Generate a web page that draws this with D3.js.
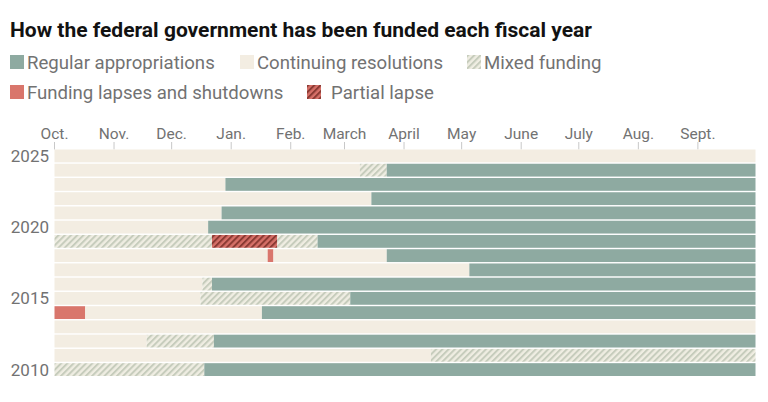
<!DOCTYPE html>
<html>
<head>
<meta charset="utf-8">
<script src="https://cdn.jsdelivr.net/npm/d3@7"></script>
<style>
  body { margin: 0; background: #fff; }
  svg { display: block; font-family: Roboto, "Liberation Sans", sans-serif; }
  .title { font-weight: 700; font-size: 21px; fill: #121212; }
  .legend-label { font-size: 18.6px; fill: #727272; }
  .month-label { font-size: 15.5px; fill: #727272; }
  .year-label { font-size: 17px; fill: #727272; }
</style>
</head>
<body>
<svg id="chart" width="768" height="402"></svg>
<script>
// fiscal years, top to bottom
const years = [2025, 2024, 2023, 2022, 2021, 2020, 2019, 2018, 2017, 2016, 2015, 2014, 2013, 2012, 2011, 2010];
const yearLabels = [2025, 2020, 2015, 2010];
const monthLabels = ['Oct.', 'Nov.', 'Dec.', 'Jan.', 'Feb.', 'March', 'April', 'May', 'June', 'July', 'Aug.', 'Sept.'];

// [fiscal year, funding type, start (MM-DD), end (MM-DD or 'end')]
const segments = [
    [2025, 'cr', '10-01', 'end'],
    [2024, 'cr', '10-01', '03-09'],
    [2024, 'mixed', '03-09', '03-23'],
    [2024, 'regular', '03-23', 'end'],
    [2023, 'cr', '10-01', '12-29'],
    [2023, 'regular', '12-29', 'end'],
    [2022, 'cr', '10-01', '03-15'],
    [2022, 'regular', '03-15', 'end'],
    [2021, 'cr', '10-01', '12-27'],
    [2021, 'regular', '12-27', 'end'],
    [2020, 'cr', '10-01', '12-20'],
    [2020, 'regular', '12-20', 'end'],
    [2019, 'mixed', '10-01', '12-22'],
    [2019, 'partial', '12-22', '01-25'],
    [2019, 'mixed', '01-25', '02-15'],
    [2019, 'regular', '02-15', 'end'],
    [2018, 'cr', '10-01', '01-20'],
    [2018, 'lapse', '01-20', '01-23'],
    [2018, 'cr', '01-23', '03-23'],
    [2018, 'regular', '03-23', 'end'],
    [2017, 'cr', '10-01', '05-05'],
    [2017, 'regular', '05-05', 'end'],
    [2016, 'cr', '10-01', '12-17'],
    [2016, 'mixed', '12-17', '12-22'],
    [2016, 'regular', '12-22', 'end'],
    [2015, 'cr', '10-01', '12-16'],
    [2015, 'mixed', '12-16', '03-04'],
    [2015, 'regular', '03-04', 'end'],
    [2014, 'lapse', '10-01', '10-17'],
    [2014, 'cr', '10-17', '01-17'],
    [2014, 'regular', '01-17', 'end'],
    [2013, 'cr', '10-01', 'end'],
    [2012, 'cr', '10-01', '11-18'],
    [2012, 'mixed', '11-18', '12-23'],
    [2012, 'regular', '12-23', 'end'],
    [2011, 'cr', '10-01', '04-15'],
    [2011, 'mixed', '04-15', 'end'],
    [2010, 'mixed', '10-01', '12-18'],
    [2010, 'regular', '12-18', 'end']
];

const legendRows = [
    [['regular', 'Regular appropriations'], ['cr', 'Continuing resolutions'], ['mixed', 'Mixed funding']],
    [['lapse', 'Funding lapses and shutdowns'], ['partial', 'Partial lapse']]
];

const COLORS = {
    regular: '#8eaaa1',
    cr: '#f3ede2',
    lapse: '#d9766c',
    mixedBg: '#efede2',
    mixedLine: '#c6ccbc',
    partialBg: '#d67068',
    partialLine: '#8a3a33'
};

const svg = d3.select('#chart');

// hatch patterns
const defs = svg.append('defs');
function hatch(id, bg, line) {
    const p = defs.append('pattern')
        .attr('id', id)
        .attr('patternUnits', 'userSpaceOnUse')
        .attr('width', 4.4)
        .attr('height', 4.4)
        .attr('patternTransform', 'rotate(45)');
    p.append('rect').attr('width', 4.4).attr('height', 4.4).attr('fill', bg);
    p.append('rect').attr('width', 2).attr('height', 4.4).attr('fill', line);
}
hatch('hatch-mixed', COLORS.mixedBg, COLORS.mixedLine);
hatch('hatch-partial', COLORS.partialBg, COLORS.partialLine);

const fill = type => ({
    regular: COLORS.regular,
    cr: COLORS.cr,
    lapse: COLORS.lapse,
    mixed: 'url(#hatch-mixed)',
    partial: 'url(#hatch-partial)'
})[type];

// reference fiscal year (non-leap) to place month/day offsets
const parse = md => {
    if (md === 'end') return new Date(2022, 9, 1);
    const [m, d] = md.split('-').map(Number);
    return new Date(m >= 10 ? 2021 : 2022, m - 1, d);
};

const x = d3.scaleTime()
    .domain([new Date(2021, 9, 1), new Date(2022, 9, 1)])
    .range([54.5, 755.5]);

const y = d3.scaleBand()
    .domain(years)
    .range([149.5, 376])
    .paddingInner(0.1);

// title
svg.append('text')
    .attr('class', 'title')
    .attr('x', 10)
    .attr('y', 37)
    .text('How the federal government has been funded each fiscal year');

// legend
const legendX = [[10, 240, 467], [10, 307]];
legendRows.forEach((row, r) => {
    const ly = 55 + r * 30;
    row.forEach(([type, label], i) => {
        const g = svg.append('g').attr('transform', `translate(${legendX[r][i]},${ly})`);
        g.append('rect')
            .attr('width', 14)
            .attr('height', 14)
            .attr('fill', fill(type));
        g.append('text')
            .attr('class', 'legend-label')
            .attr('x', type === 'partial' ? 24 : 17)
            .attr('y', 13.5)
            .text(label);
    });
});

// month axis
const months = d3.timeMonth.range(new Date(2021, 9, 1), new Date(2022, 9, 1));
const axis = svg.append('g');
axis.selectAll('line')
    .data(months)
    .enter()
    .append('line')
    .attr('x1', d => x(d))
    .attr('x2', d => x(d))
    .attr('y1', 142)
    .attr('y2', 149.5)
    .attr('stroke', '#c8c8c8')
    .attr('stroke-width', 1);
axis.selectAll('text')
    .data(months)
    .enter()
    .append('text')
    .attr('class', 'month-label')
    .attr('x', d => x(d))
    .attr('y', 139)
    .attr('text-anchor', 'middle')
    .text((d, i) => monthLabels[i]);

// bars
svg.append('g')
    .selectAll('rect')
    .data(segments)
    .enter()
    .append('rect')
    .attr('x', d => x(parse(d[2])))
    .attr('width', d => x(parse(d[3])) - x(parse(d[2])))
    .attr('y', d => y(d[0]))
    .attr('height', y.bandwidth())
    .attr('fill', d => fill(d[1]));

// year labels
svg.append('g')
    .selectAll('text')
    .data(yearLabels)
    .enter()
    .append('text')
    .attr('class', 'year-label')
    .attr('x', 49)
    .attr('y', d => y(d) + y.bandwidth() / 2 + 6)
    .attr('text-anchor', 'end')
    .text(d => d);
</script>
</body>
</html>
